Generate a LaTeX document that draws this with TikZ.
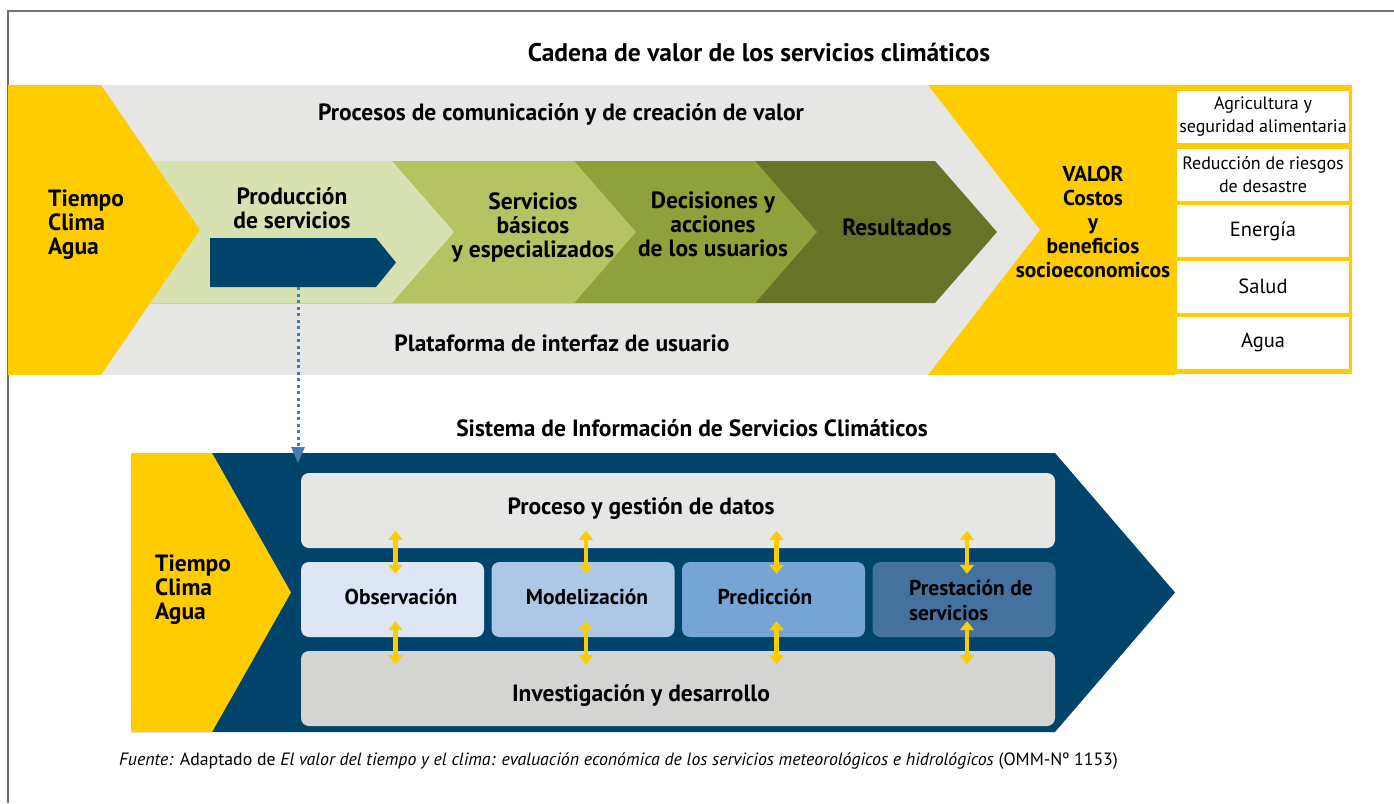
\documentclass[tikz,border=0pt]{standalone}
\usepackage{fontspec}
\setmainfont{PT Sans}
\usetikzlibrary{calc,arrows.meta}

\definecolor{amarillo}{HTML}{FFCC00}
\definecolor{grisclaro}{HTML}{E6E6E5}
\definecolor{grismedio}{HTML}{D4D4D3}
\definecolor{verde1}{HTML}{D8E1B2}
\definecolor{verde2}{HTML}{B5C363}
\definecolor{verde3}{HTML}{8FA13B}
\definecolor{verde4}{HTML}{677428}
\definecolor{marino}{HTML}{00446C}
\definecolor{azul0}{HTML}{4A7BB0}
\definecolor{azul1}{HTML}{DCE6F4}
\definecolor{azul2}{HTML}{ADC8E6}
\definecolor{azul3}{HTML}{75A5D5}
\definecolor{azul4}{HTML}{43729F}
\definecolor{marco}{HTML}{707070}

\begin{document}
\begin{tikzpicture}[x = 1pt, y = -1pt,
	etiq/.style = {font = \bfseries\fontsize{23.5}{24}\selectfont, align = center, inner sep = 0},
	medio/.style = {etiq, font = \bfseries\fontsize{21.5}{25}\selectfont},
	fila/.style = {fill = white, minimum width = 172, minimum height = 52, align = center, inner sep = 0},
	caja/.style = {rounded corners = 8, minimum height = 75, inner sep = 0},
	doble/.style = {draw = amarillo, line width = 4.5, >={Triangle[width = 14pt, length = 9pt]}, <->}]
	\useasboundingbox (0,0) rectangle (1394,803);
	\draw[marco, line width = 1.3] (8,803) -- (8,11) -- (1394,11);

	\node[etiq, font = \bfseries\fontsize{25.5}{24}\selectfont] (cadena) at (759,52) {Cadena de valor de los servicios climáticos};

	\fill[grisclaro] (101,85) -- (928,85) -- (1040,230) -- (928,375) -- (101,375) -- cycle;
	\fill[amarillo] (928,85) -- (1175,85) -- (1175,375) -- (928,375) -- (1040,230) -- cycle;
	\fill[amarillo] (1174,85) rectangle (1352,374);
	\foreach \c/\xa in {verde4/935, verde3/755, verde2/574, verde1/392}
		\fill[\c] (150,161) -- (\xa,161) -- (\xa+62,232) -- (\xa,303) -- (150,303) -- cycle;
	\fill[amarillo] (8,85) -- (101,85) -- (200,230) -- (101,375) -- (8,375) -- cycle;
	\fill[marino] (210,238) -- (376,238) -- (396,262.5) -- (376,287) -- (210,287) -- cycle;

	\node[etiq] (procesos) at (561,114) {Procesos de comunicación y de creación de valor};
	\node[etiq] (plataforma) at (562,343) {Plataforma de interfaz de usuario};
	\node[etiq, align = left, anchor = west] (entrada1) at (48,225) {Tiempo\\Clima\\Agua};
	\node[etiq] (prod) at (292,208) {Producción\\de servicios};
	\node[etiq] (basicos) at (533,228) {Servicios\\básicos\\y especializados};
	\node[etiq] (decis) at (713,224) {Decisiones y\\acciones\\de los usuarios};
	\node[etiq] (result) at (897,227) {Resultados};
	\node[medio, font = \bfseries\fontsize{21.5}{24}\selectfont] (valor) at (1093,222) {VALOR\\Costos\\y\\beneficios\\socioeconomicos};

	\node[fila, font = \fontsize{18}{23}\selectfont] (agri) at (1263,117) {Agricultura y\\seguridad alimentaria};
	\node[fila, font = \fontsize{18}{23}\selectfont] (riesgos) at (1263,174.5) {Reducción de riesgos\\de desastre};
	\node[fila, font = \fontsize{20.5}{23}\selectfont] (energia) at (1263,231) {Energía};
	\node[fila, font = \fontsize{20.5}{23}\selectfont] (salud) at (1263,286.5) {Salud};
	\node[fila, font = \fontsize{20.5}{23}\selectfont] (agua) at (1263,342.5) {Agua};

	\node[etiq] (sistema) at (692,428) {Sistema de Información de Servicios Climáticos};

	\fill[marino] (131,453) -- (1055,453) -- (1175,592.5) -- (1055,732) -- (131,732) -- cycle;
	\fill[amarillo] (131,453) -- (212,453) -- (291,592.5) -- (212,732) -- (131,732) -- cycle;
	\node[etiq, align = left, anchor = west] (entrada2) at (155,590) {Tiempo\\Clima\\Agua};

	\node[caja, fill = grisclaro, minimum width = 754] (datos) at (678,510.5) {};
	\node[caja, fill = grismedio, minimum width = 754] (invest) at (678,688.5) {};
	\foreach \n/\c [count = \i from 0] in {obs/azul1, model/azul2, pred/azul3, prest/azul4}
		\node[caja, fill = \c, minimum width = 183] (\n) at (392.5+190.5*\i,599.5) {};

	\node[etiq] (datos-t) at (641,509) {Proceso y gestión de datos};
	\node[etiq] (invest-t) at (641,696) {Investigación y desarrollo};
	\node[medio] (obs-t) at (401,597) {Observación};
	\node[medio] (model-t) at (587,597) {Modelización};
	\node[medio] (pred-t) at (765,597) {Predicción};
	\node[medio, align = left] (prest-t) at (971,600) {Prestación de\\servicios};

	\foreach \n in {obs, model, pred, prest} {
		\draw[doble] ($(\n.north)+(3,-31)$) -- ($(\n.north)+(3,12)$);
		\draw[doble] ($(\n.south)+(3,-16)$) -- ($(\n.south)+(3,27)$);
	}

	\coordinate (salida) at (298,287);
	\coordinate (llegada) at (298,463);
	\draw[azul0, line width = 3, dash pattern = on 3pt off 3.5pt, -{Triangle[width = 13pt, length = 16pt]}] (salida) -- (llegada);

	\node[anchor = west, inner sep = 0, font = \fontsize{17.8}{18}\selectfont] (fuente) at (119,761) {\textit{Fuente:} Adaptado de \textit{El valor del tiempo y el clima: evaluación económica de los servicios meteorológicos e hidrológicos} (OMM-Nº 1153)};
\end{tikzpicture}
\end{document}
